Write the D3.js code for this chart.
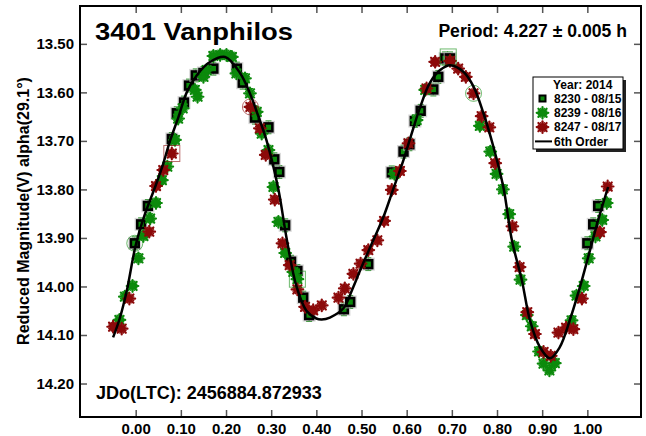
<!DOCTYPE html>
<html><head><meta charset="utf-8">
<script src="https://cdn.jsdelivr.net/npm/d3@7"></script>
<style>
body{margin:0;background:#fff}
svg text{font-family:"Liberation Sans",Arial,sans-serif;font-weight:bold;fill:#000}
</style>
</head><body>
<svg id="c" width="646" height="436"></svg>
<script>
// ---------- data ----------
const xTicks = [0.0,0.1,0.2,0.3,0.4,0.5,0.6,0.7,0.8,0.9,1.0];
const yTicks = [13.5,13.6,13.7,13.8,13.9,14.0,14.1,14.2];

const curvePhase = [-0.050,-0.035,-0.020,0.000,0.020,0.043,0.060,0.076,0.095,0.113,0.135,0.165,0.198,0.231,0.252,0.270,0.290,0.316,0.334,0.356,0.378,0.400,0.412,0.430,0.460,0.480,0.500,0.526,0.548,0.570,0.593,0.611,0.630,0.651,0.674,0.696,0.725,0.748,0.770,0.792,0.814,0.833,0.855,0.873,0.895,0.917,0.939,0.961,0.984,1.006,1.024,1.046];
const curveMag   = [14.105,14.065,14.010,13.915,13.852,13.795,13.750,13.700,13.650,13.600,13.565,13.537,13.527,13.560,13.600,13.645,13.700,13.800,13.900,14.000,14.050,14.066,14.068,14.064,14.045,14.005,13.960,13.905,13.858,13.800,13.739,13.685,13.630,13.581,13.554,13.544,13.557,13.588,13.643,13.712,13.795,13.905,13.987,14.070,14.125,14.148,14.125,14.070,14.000,13.925,13.863,13.795];

// 8230 - 08/15 (squares)
const s8230Phase = [-0.002,0.012,0.027,0.080,0.091,0.107,0.118,0.133,0.150,0.172,0.224,0.237,0.264,0.294,0.307,0.318,0.331,0.344,0.358,0.371,0.384,0.461,0.475,0.515,0.567,0.593,0.606,0.618,0.631,0.659,0.670,0.685,0.696,1.000,1.013,1.024];
const s8230Mag   = [13.911,13.872,13.834,13.696,13.643,13.621,13.586,13.565,13.560,13.551,13.551,13.580,13.652,13.672,13.738,13.764,13.874,13.949,13.968,14.023,14.059,14.047,14.032,13.954,13.765,13.722,13.707,13.659,13.638,13.594,13.568,13.530,13.530,13.911,13.872,13.834];

// 8239 - 08/16 (green asterisks)
const s8239Phase = [-0.036,-0.024,-0.007,0.006,0.017,0.032,0.045,0.058,0.070,0.087,0.094,0.104,0.131,0.137,0.150,0.157,0.172,0.187,0.201,0.213,0.223,0.242,0.253,0.268,0.279,0.294,0.305,0.316,0.331,0.349,0.358,0.573,0.622,0.641,0.762,0.785,0.799,0.813,0.827,0.838,0.852,0.866,0.877,0.893,0.903,0.916,0.928,0.965,0.976,0.992,1.003,1.018,1.033,1.043];
const s8239Mag   = [14.069,14.021,13.999,13.942,13.896,13.860,13.828,13.781,13.753,13.698,13.654,13.633,13.595,13.609,13.568,13.554,13.525,13.523,13.523,13.527,13.561,13.571,13.602,13.640,13.685,13.719,13.795,13.867,13.931,13.970,13.985,13.768,13.657,13.595,13.669,13.722,13.768,13.800,13.851,13.918,13.986,14.059,14.082,14.134,14.159,14.173,14.158,14.070,14.019,13.999,13.942,13.897,13.863,13.828];

// 8247 - 08/17 (red asterisks)
const s8247Phase = [-0.050,-0.031,-0.014,0.030,0.045,0.061,0.080,0.254,0.275,0.288,0.308,0.325,0.341,0.358,0.375,0.393,0.412,0.449,0.463,0.482,0.498,0.515,0.535,0.550,0.567,0.585,0.604,0.644,0.663,0.696,0.714,0.731,0.748,0.766,0.783,0.796,0.834,0.850,0.867,0.884,0.903,0.919,0.936,0.953,0.969,0.988,1.028,1.045];
const s8247Mag   = [14.083,14.087,14.025,13.887,13.793,13.760,13.726,13.630,13.674,13.729,13.821,13.911,13.956,14.006,14.042,14.049,14.039,14.023,14.004,13.974,13.953,13.925,13.905,13.865,13.801,13.762,13.705,13.592,13.537,13.535,13.551,13.568,13.602,13.649,13.672,13.746,13.876,13.960,14.053,14.098,14.135,14.143,14.095,14.085,14.088,14.025,13.888,13.794];

// highlighted points (circles / boxes)
const circlePhase = [-0.002,0.254,0.748];
const circleMag   = [13.911,13.630,13.602];
const circleSeries= ["8239","8247","8239"];
const boxPhase = [0.080,0.358,0.692];
const boxMag   = [13.726,13.985,13.527];
const boxSeries= ["8247","8239","8239"];

const legendLabels = ["8230 - 08/15","8239 - 08/16","8247 - 08/17","6th Order"];

// ---------- drawing ----------
const W=646,H=436, L=80,R=641,T=6,B=417;
const svg = d3.select("#c");
const x = d3.scaleLinear().domain([-0.1233,1.1188]).range([L,R]);
const y = d3.scaleLinear().domain([13.422,14.269]).range([T,B]);
const GREEN="#0c8a0c", RED="#8c0a0a";
const colorOf = {"8239":GREEN,"8247":RED};

function styleAxis(g){
  g.select(".domain").remove();
  g.attr("font-family",null).attr("font-size",15);
  g.selectAll(".tick line").attr("stroke","#555").attr("stroke-width",1.5);
  g.selectAll("text").style("font-weight","bold").attr("fill","#000");
}
svg.append("g").attr("transform",`translate(0,${B})`)
  .call(d3.axisBottom(x).tickValues(xTicks).tickFormat(d3.format(".2f")).tickSizeInner(-7).tickSizeOuter(0).tickPadding(6))
  .call(styleAxis);
svg.append("g").attr("transform",`translate(0,${T})`)
  .call(d3.axisTop(x).tickValues(xTicks).tickFormat("").tickSizeInner(-7).tickSizeOuter(0))
  .call(styleAxis);
svg.append("g").attr("transform",`translate(${L},0)`)
  .call(d3.axisLeft(y).tickValues(yTicks).tickFormat(d3.format(".2f")).tickSizeInner(-7).tickSizeOuter(0).tickPadding(6))
  .call(styleAxis);
svg.append("g").attr("transform",`translate(${R},0)`)
  .call(d3.axisRight(y).tickValues(yTicks).tickFormat("").tickSizeInner(-7).tickSizeOuter(0))
  .call(styleAxis);

svg.append("rect").attr("x",L).attr("y",T).attr("width",R-L).attr("height",B-T)
  .attr("fill","none").attr("stroke","#000").attr("stroke-width",2);

const plot = svg.append("g");

const curvePts = curvePhase.map((p,i)=>[p,curveMag[i]]);
const sq = s8230Phase.map((p,i)=>[p,s8230Mag[i]]);
sq.forEach(([p,m])=>{
  const cx=x(p), cy=y(m), e=y(m+0.013)-cy;
  const g=plot.append("g").attr("stroke",GREEN).attr("stroke-width",1.2);
  g.append("line").attr("x1",cx).attr("x2",cx).attr("y1",cy-e).attr("y2",cy+e);
  g.append("line").attr("x1",cx-3).attr("x2",cx+3).attr("y1",cy-e).attr("y2",cy-e);
  g.append("line").attr("x1",cx-3).attr("x2",cx+3).attr("y1",cy+e).attr("y2",cy+e);
});
function drawSquare(g,cx,cy){
  g.append("rect").attr("x",cx-6.5).attr("y",cy-6.5).attr("width",13).attr("height",13).attr("fill","#bbb").attr("opacity",0.6);
  g.append("rect").attr("x",cx-5.2).attr("y",cy-5.2).attr("width",10.4).attr("height",10.4).attr("fill","#000");
  g.append("rect").attr("x",cx-2.6).attr("y",cy-2.6).attr("width",5.2).attr("height",5.2).attr("fill",GREEN);
}
function drawStar(g,cx,cy,col){
  const r=5.8;
  const s=g.append("g");
  [0,45,90,135,22.5,67.5,112.5,157.5].forEach((a,k)=>{
    const rr = k<4? r : r*0.8;
    const dx=rr*Math.cos(a*Math.PI/180), dy=rr*Math.sin(a*Math.PI/180);
    s.append("line").attr("x1",cx-dx).attr("x2",cx+dx).attr("y1",cy-dy).attr("y2",cy+dy)
      .attr("stroke",col).attr("stroke-width",k<4?2.2:1.5).attr("stroke-linecap","round");
  });
  s.append("circle").attr("cx",cx).attr("cy",cy).attr("r",2.8).attr("fill",col);
}
sq.forEach(([p,m])=>drawSquare(plot,x(p),y(m)));
s8239Phase.forEach((p,i)=>{
  const cx=x(p), cy=y(s8239Mag[i]), e=y(s8239Mag[i]+0.010)-cy;
  plot.append("line").attr("x1",cx).attr("x2",cx).attr("y1",cy-e).attr("y2",cy+e).attr("stroke",GREEN).attr("stroke-width",1);
  plot.append("line").attr("x1",cx-3).attr("x2",cx+3).attr("y1",cy-e).attr("y2",cy-e).attr("stroke",GREEN).attr("stroke-width",1);
  drawStar(plot,cx,cy,GREEN);
});
s8247Phase.forEach((p,i)=>drawStar(plot,x(p),y(s8247Mag[i]),RED));

circlePhase.forEach((p,i)=>{
  plot.append("circle").attr("cx",x(p)).attr("cy",y(circleMag[i])).attr("r",8)
    .attr("fill","none").attr("stroke",colorOf[circleSeries[i]]).attr("stroke-opacity",0.6).attr("stroke-width",1);
});
boxPhase.forEach((p,i)=>{
  plot.append("rect").attr("x",x(p)-8).attr("y",y(boxMag[i])-8).attr("width",16).attr("height",16)
    .attr("fill","none").attr("stroke",colorOf[boxSeries[i]]).attr("stroke-opacity",0.6).attr("stroke-width",1);
});

plot.append("path").datum(curvePts)
  .attr("d",d3.line().x(d=>x(d[0])).y(d=>y(d[1])).curve(d3.curveCatmullRom.alpha(0.5)))
  .attr("fill","none").attr("stroke","#000").attr("stroke-width",2.5);

// texts
svg.append("text").attr("x",95).attr("y",40).attr("font-size",24)
  .attr("textLength",198).attr("lengthAdjust","spacingAndGlyphs").text("3401 Vanphilos");
svg.append("text").attr("x",627).attr("y",37).attr("font-size",17.6).attr("text-anchor","end")
  .text("Period: 4.227 ± 0.005 h");
svg.append("text").attr("x",96).attr("y",399).attr("font-size",18).text("JDo(LTC): 2456884.872933");
svg.append("text").attr("transform","translate(29,211) rotate(-90)").attr("text-anchor","middle")
  .attr("font-size",16).text("Reduced Magnitude(V) alpha(29.1°)");

// legend
const lg = svg.append("g");
lg.append("rect").attr("x",536).attr("y",80).attr("width",90).attr("height",72).attr("fill","#222");
lg.append("rect").attr("x",533).attr("y",77).attr("width",90).attr("height",72).attr("fill","#fff").attr("stroke","#000").attr("stroke-width",1);
lg.append("text").attr("x",553).attr("y",88.5).attr("font-size",12).text("Year: 2014");
const rowsY=[102.8,117.1,131.4,145.7];
legendLabels.forEach((t,i)=>lg.append("text").attr("x",554).attr("y",rowsY[i]).attr("font-size",12).text(t));
const lsq = lg.append("g"); 
lsq.append("rect").attr("x",538.5).attr("y",rowsY[0]-8.3).attr("width",8).attr("height",8).attr("fill","#000");
lsq.append("rect").attr("x",540.5).attr("y",rowsY[0]-6.3).attr("width",4).attr("height",4).attr("fill",GREEN);
drawStar(lg,542.5,rowsY[1]-4.3,GREEN);
drawStar(lg,542.5,rowsY[2]-4.3,RED);
lg.append("line").attr("x1",535).attr("x2",552).attr("y1",rowsY[3]-4.3).attr("y2",rowsY[3]-4.3).attr("stroke","#000").attr("stroke-width",2);
</script>
</body></html>
